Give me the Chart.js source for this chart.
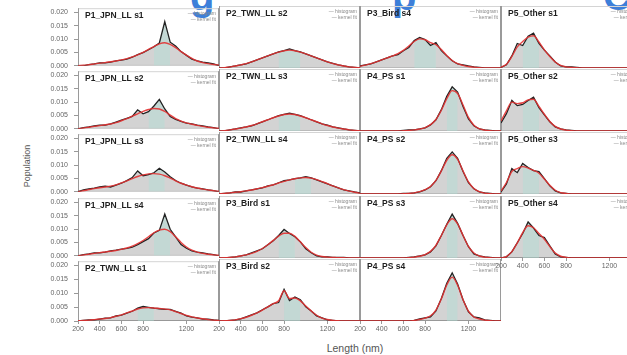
<!DOCTYPE html>
<html>
<head>
<meta charset="utf-8">
<script src="https://cdn.jsdelivr.net/npm/chart.js@4.4.1/dist/chart.umd.min.js"></script>
<style>
  body { margin: 0; background: #fff; }
  #page { position: relative; width: 627px; height: 355px; overflow: hidden; background: #fff;
          font-family: "Liberation Sans", "DejaVu Sans", sans-serif; }
  .panel { position: absolute; }
  .frag { position: absolute; top: -24px; font: bold 40px "Liberation Sans", sans-serif; line-height: 40px; color: #3d7fd9; }
  #xTitle { position: absolute; left: 300px; width: 110px; top: 342px; text-align: center; font-size: 10.5px; color: #555; }
  #yTitle { position: absolute; left: -3px; top: 161px; width: 60px; text-align: center; font-size: 9px; color: #555;
            transform: rotate(-90deg); }
</style>
</head>
<body>
<div id="page">
  <span class="frag" style="left:190px">g</span>
  <span class="frag" style="left:392px">p</span>
  <span class="frag" style="left:603px">C</span>
  <div id="yTitle">Population</div>
  <div id="xTitle">Length (nm)</div>
</div>
<script>
// Shared axes
const lengthBins = [200, 250, 300, 350, 400, 450, 500, 550, 600, 650, 700, 750, 800, 850, 900, 950, 1000, 1050, 1100, 1150, 1200, 1250, 1300, 1350, 1400, 1450, 1500];
const xTickValues = [200, 400, 600, 800, 1200];
const yTickValues = [0, 0.005, 0.010, 0.015, 0.020];

// Panel names (column by column)
const panelNames = [
    'P1_JPN_LL s1', 'P1_JPN_LL s2', 'P1_JPN_LL s3', 'P1_JPN_LL s4', 'P2_TWN_LL s1',
    'P2_TWN_LL s2', 'P2_TWN_LL s3', 'P2_TWN_LL s4', 'P3_Bird s1', 'P3_Bird s2',
    'P3_Bird s4', 'P4_PS s1', 'P4_PS s2', 'P4_PS s3', 'P4_PS s4',
    'P5_Other s1', 'P5_Other s2', 'P5_Other s3', 'P5_Other s4'
];

// Histogram (population per length bin) and fitted curve, per panel
const p1s1Hist = [0, 0, 0.0004, 0.0007, 0.0011, 0.0011, 0.0014, 0.0018, 0.0021, 0.0025, 0.0032, 0.0042, 0.0049, 0.0060, 0.0071, 0.0085, 0.0165, 0.0088, 0.0074, 0.0053, 0.0039, 0.0025, 0.0018, 0.0014, 0.0011, 0.0007, 0];
const p1s1Fit  = [0, 0.0002, 0.0004, 0.0007, 0.0010, 0.0012, 0.0015, 0.0018, 0.0022, 0.0027, 0.0033, 0.0041, 0.0050, 0.0061, 0.0072, 0.0082, 0.0086, 0.0080, 0.0068, 0.0053, 0.0040, 0.0028, 0.0018, 0.0012, 0.0008, 0.0005, 0.0003];
const p1s2Hist = [0, 0.0004, 0.0007, 0.0011, 0.0014, 0.0014, 0.0018, 0.0025, 0.0032, 0.0039, 0.0046, 0.0071, 0.0056, 0.0064, 0.0085, 0.0110, 0.0074, 0.0046, 0.0035, 0.0028, 0.0021, 0.0018, 0.0014, 0.0011, 0.0007, 0.0004, 0];
const p1s2Fit  = [0, 0.0003, 0.0006, 0.0009, 0.0012, 0.0015, 0.0018, 0.0023, 0.0030, 0.0038, 0.0047, 0.0056, 0.0065, 0.0072, 0.0076, 0.0074, 0.0065, 0.0051, 0.0038, 0.0029, 0.0022, 0.0017, 0.0013, 0.0009, 0.0006, 0.0003, 0.0002];
const p1s3Hist = [0, 0.0007, 0.0011, 0.0014, 0.0018, 0.0021, 0.0018, 0.0025, 0.0032, 0.0042, 0.0053, 0.0078, 0.0060, 0.0064, 0.0071, 0.0088, 0.0074, 0.0056, 0.0042, 0.0032, 0.0025, 0.0018, 0.0014, 0.0011, 0.0007, 0.0004, 0];
const p1s3Fit  = [0, 0.0004, 0.0008, 0.0012, 0.0015, 0.0018, 0.0021, 0.0026, 0.0033, 0.0041, 0.0049, 0.0057, 0.0063, 0.0067, 0.0068, 0.0066, 0.0060, 0.0051, 0.0041, 0.0032, 0.0025, 0.0019, 0.0014, 0.0010, 0.0007, 0.0004, 0.0002];
const p1s4Hist = [0, 0.0004, 0.0007, 0.0011, 0.0011, 0.0014, 0.0018, 0.0021, 0.0025, 0.0028, 0.0032, 0.0042, 0.0053, 0.0064, 0.0085, 0.0095, 0.0156, 0.0099, 0.0071, 0.0042, 0.0028, 0.0018, 0.0014, 0.0011, 0.0007, 0.0004, 0];
const p1s4Fit  = [0, 0.0003, 0.0006, 0.0009, 0.0012, 0.0014, 0.0017, 0.0020, 0.0024, 0.0029, 0.0036, 0.0045, 0.0057, 0.0071, 0.0086, 0.0096, 0.0099, 0.0090, 0.0071, 0.0050, 0.0033, 0.0021, 0.0014, 0.0009, 0.0006, 0.0003, 0.0002];
const p2s1Hist = [0, 0.0002, 0.0004, 0.0004, 0.0007, 0.0010, 0.0011, 0.0018, 0.0021, 0.0028, 0.0035, 0.0046, 0.0052, 0.0049, 0.0046, 0.0044, 0.0042, 0.0042, 0.0035, 0.0028, 0.0018, 0.0014, 0.0011, 0.0007, 0.0007, 0.0004, 0.0002];
const p2s1Fit  = [0.0001, 0.0002, 0.0003, 0.0005, 0.0007, 0.0009, 0.0012, 0.0017, 0.0022, 0.0029, 0.0036, 0.0043, 0.0047, 0.0048, 0.0047, 0.0045, 0.0043, 0.0040, 0.0034, 0.0027, 0.0020, 0.0015, 0.0011, 0.0008, 0.0005, 0.0003, 0.0002];
const p2s2Hist = [0, 0, 0.0004, 0.0007, 0.0011, 0.0014, 0.0021, 0.0028, 0.0035, 0.0042, 0.0049, 0.0056, 0.0060, 0.0066, 0.0060, 0.0056, 0.0049, 0.0042, 0.0035, 0.0028, 0.0021, 0.0016, 0.0011, 0.0007, 0.0004, 0.0002, 0];
const p2s2Fit  = [0, 0.0001, 0.0004, 0.0007, 0.0011, 0.0015, 0.0021, 0.0028, 0.0035, 0.0042, 0.0049, 0.0055, 0.0060, 0.0062, 0.0060, 0.0055, 0.0049, 0.0042, 0.0035, 0.0028, 0.0021, 0.0015, 0.0011, 0.0007, 0.0004, 0.0002, 0.0001];
const p2s3Hist = [0, 0, 0.0004, 0.0007, 0.0011, 0.0014, 0.0018, 0.0025, 0.0032, 0.0039, 0.0046, 0.0053, 0.0058, 0.0062, 0.0058, 0.0053, 0.0046, 0.0039, 0.0032, 0.0025, 0.0020, 0.0014, 0.0011, 0.0007, 0.0004, 0.0002, 0];
const p2s3Fit  = [0, 0.0001, 0.0004, 0.0007, 0.0010, 0.0014, 0.0019, 0.0025, 0.0032, 0.0039, 0.0046, 0.0052, 0.0057, 0.0059, 0.0057, 0.0052, 0.0046, 0.0039, 0.0032, 0.0025, 0.0019, 0.0014, 0.0010, 0.0007, 0.0004, 0.0002, 0.0001];
const p2s4Hist = [0, 0.0002, 0.0004, 0.0007, 0.0007, 0.0011, 0.0014, 0.0018, 0.0021, 0.0028, 0.0032, 0.0039, 0.0046, 0.0049, 0.0053, 0.0056, 0.0060, 0.0056, 0.0049, 0.0042, 0.0035, 0.0028, 0.0021, 0.0014, 0.0011, 0.0007, 0.0004];
const p2s4Fit  = [0, 0.0002, 0.0004, 0.0006, 0.0008, 0.0011, 0.0014, 0.0018, 0.0022, 0.0027, 0.0032, 0.0038, 0.0044, 0.0049, 0.0053, 0.0056, 0.0057, 0.0055, 0.0050, 0.0043, 0.0036, 0.0028, 0.0021, 0.0015, 0.0010, 0.0006, 0.0003];
const p3s1Hist = [0, 0, 0.0002, 0.0004, 0.0007, 0.0011, 0.0018, 0.0025, 0.0032, 0.0046, 0.0060, 0.0078, 0.0099, 0.0085, 0.0074, 0.0056, 0.0032, 0.0018, 0.0007, 0.0004, 0.0004, 0.0002, 0.0002, 0.0002, 0, 0, 0];
const p3s1Fit  = [0, 0.0001, 0.0002, 0.0004, 0.0007, 0.0011, 0.0016, 0.0023, 0.0033, 0.0046, 0.0061, 0.0076, 0.0086, 0.0086, 0.0075, 0.0056, 0.0036, 0.0020, 0.0010, 0.0005, 0.0003, 0.0002, 0.0001, 0.0001, 0, 0, 0];
const p3s2Hist = [0, 0, 0.0002, 0.0004, 0.0007, 0.0014, 0.0021, 0.0028, 0.0039, 0.0049, 0.0060, 0.0064, 0.0110, 0.0071, 0.0083, 0.0074, 0.0049, 0.0035, 0.0018, 0.0011, 0.0004, 0.0002, 0, 0, 0, 0, 0];
const p3s2Fit  = [0, 0.0001, 0.0002, 0.0004, 0.0008, 0.0013, 0.0020, 0.0028, 0.0038, 0.0049, 0.0060, 0.0070, 0.0105, 0.0078, 0.0080, 0.0070, 0.0052, 0.0035, 0.0020, 0.0010, 0.0005, 0.0002, 0.0001, 0, 0, 0, 0];
const p3s4Hist = [0.0007, 0.0011, 0.0014, 0.0021, 0.0028, 0.0035, 0.0042, 0.0046, 0.0060, 0.0071, 0.0095, 0.0106, 0.0099, 0.0078, 0.0088, 0.0060, 0.0042, 0.0025, 0.0014, 0.0011, 0.0007, 0.0004, 0.0002, 0, 0, 0, 0];
const p3s4Fit  = [0.0006, 0.0010, 0.0015, 0.0021, 0.0028, 0.0035, 0.0042, 0.0050, 0.0061, 0.0076, 0.0092, 0.0101, 0.0098, 0.0088, 0.0081, 0.0064, 0.0043, 0.0026, 0.0015, 0.0009, 0.0005, 0.0003, 0.0001, 0, 0, 0, 0];
const p4s1Hist = [0, 0, 0, 0, 0, 0, 0, 0, 0.0002, 0.0004, 0.0004, 0.0007, 0.0011, 0.0021, 0.0039, 0.0074, 0.0120, 0.0153, 0.0135, 0.0085, 0.0042, 0.0018, 0.0007, 0.0004, 0.0002, 0, 0];
const p4s1Fit  = [0, 0, 0, 0, 0, 0, 0, 0, 0.0001, 0.0002, 0.0004, 0.0007, 0.0012, 0.0022, 0.0040, 0.0072, 0.0112, 0.0140, 0.0130, 0.0090, 0.0047, 0.0020, 0.0008, 0.0003, 0.0001, 0, 0];
const p4s2Hist = [0, 0, 0, 0, 0, 0, 0, 0, 0.0002, 0.0002, 0.0004, 0.0007, 0.0014, 0.0025, 0.0046, 0.0081, 0.0124, 0.0146, 0.0124, 0.0078, 0.0039, 0.0018, 0.0007, 0.0004, 0.0002, 0, 0];
const p4s2Fit  = [0, 0, 0, 0, 0, 0, 0, 0, 0.0001, 0.0002, 0.0004, 0.0008, 0.0015, 0.0026, 0.0047, 0.0080, 0.0117, 0.0136, 0.0120, 0.0080, 0.0042, 0.0019, 0.0008, 0.0003, 0.0001, 0, 0];
const p4s3Hist = [0, 0, 0, 0, 0, 0, 0, 0, 0, 0.0002, 0.0004, 0.0007, 0.0011, 0.0021, 0.0042, 0.0078, 0.0117, 0.0152, 0.0120, 0.0078, 0.0039, 0.0014, 0.0007, 0.0004, 0.0002, 0, 0];
const p4s3Fit  = [0, 0, 0, 0, 0, 0, 0, 0, 0, 0.0001, 0.0003, 0.0006, 0.0012, 0.0023, 0.0044, 0.0078, 0.0115, 0.0136, 0.0118, 0.0078, 0.0040, 0.0017, 0.0007, 0.0003, 0.0001, 0, 0];
const p4s4Hist = [0, 0, 0, 0, 0, 0, 0, 0, 0, 0, 0.0002, 0.0007, 0.0011, 0.0014, 0.0035, 0.0078, 0.0131, 0.0167, 0.0128, 0.0074, 0.0032, 0.0014, 0.0011, 0.0004, 0.0002, 0, 0];
const p4s4Fit  = [0, 0, 0, 0, 0, 0, 0, 0, 0, 0, 0.0002, 0.0005, 0.0010, 0.0018, 0.0038, 0.0077, 0.0125, 0.0152, 0.0124, 0.0074, 0.0034, 0.0014, 0.0007, 0.0003, 0.0001, 0, 0];
const p5s1Hist = [0.0002, 0.0011, 0.0042, 0.0085, 0.0078, 0.0110, 0.0121, 0.0085, 0.0062, 0.0042, 0.0021, 0.0007, 0.0004, 0.0004, 0.0002, 0, 0, 0, 0, 0, 0, 0, 0, 0, 0, 0, 0];
const p5s1Fit  = [0.0003, 0.0013, 0.0040, 0.0073, 0.0092, 0.0107, 0.0112, 0.0090, 0.0063, 0.0040, 0.0021, 0.0009, 0.0004, 0.0002, 0.0001, 0, 0, 0, 0, 0, 0, 0, 0, 0, 0, 0, 0];
const p5s2Hist = [0.0028, 0.0060, 0.0106, 0.0088, 0.0092, 0.0106, 0.0117, 0.0081, 0.0056, 0.0032, 0.0014, 0.0007, 0.0004, 0.0002, 0, 0, 0, 0, 0, 0, 0, 0, 0, 0, 0, 0, 0];
const p5s2Fit  = [0.0035, 0.0070, 0.0100, 0.0095, 0.0098, 0.0108, 0.0110, 0.0085, 0.0058, 0.0033, 0.0016, 0.0007, 0.0003, 0.0001, 0, 0, 0, 0, 0, 0, 0, 0, 0, 0, 0, 0, 0];
const p5s3Hist = [0.0007, 0.0035, 0.0088, 0.0074, 0.0106, 0.0092, 0.0081, 0.0078, 0.0053, 0.0028, 0.0011, 0.0004, 0.0002, 0, 0, 0, 0, 0, 0, 0, 0, 0, 0, 0, 0, 0, 0];
const p5s3Fit  = [0.0010, 0.0040, 0.0078, 0.0088, 0.0095, 0.0090, 0.0082, 0.0072, 0.0052, 0.0030, 0.0013, 0.0005, 0.0002, 0, 0, 0, 0, 0, 0, 0, 0, 0, 0, 0, 0, 0, 0];
const p5s4Hist = [0, 0.0004, 0.0021, 0.0053, 0.0085, 0.0125, 0.0104, 0.0078, 0.0071, 0.0042, 0.0014, 0.0004, 0.0002, 0, 0, 0, 0, 0, 0, 0, 0, 0, 0, 0, 0, 0, 0];
const p5s4Fit  = [0, 0.0005, 0.0022, 0.0052, 0.0088, 0.0112, 0.0105, 0.0085, 0.0065, 0.0040, 0.0017, 0.0006, 0.0002, 0, 0, 0, 0, 0, 0, 0, 0, 0, 0, 0, 0, 0, 0];

// Shaded central length range of each panel (nm)
const peakBands = [
    [900, 1050], [850, 1000], [850, 1000], [900, 1050], [750, 900],
    [750, 950], [750, 950], [900, 1050], [750, 900], [800, 950],
    [700, 900], [1000, 1100], [1000, 1100], [1000, 1100], [1000, 1100],
    [400, 550], [400, 550], [400, 550], [400, 550]
];

const histSeries = [p1s1Hist, p1s2Hist, p1s3Hist, p1s4Hist, p2s1Hist, p2s2Hist, p2s3Hist, p2s4Hist, p3s1Hist, p3s2Hist,
                    p3s4Hist, p4s1Hist, p4s2Hist, p4s3Hist, p4s4Hist, p5s1Hist, p5s2Hist, p5s3Hist, p5s4Hist];
const fitSeries  = [p1s1Fit, p1s2Fit, p1s3Fit, p1s4Fit, p2s1Fit, p2s2Fit, p2s3Fit, p2s4Fit, p3s1Fit, p3s2Fit,
                    p3s4Fit, p4s1Fit, p4s2Fit, p4s3Fit, p4s4Fit, p5s1Fit, p5s2Fit, p5s3Fit, p5s4Fit];

// Grid layout
const colLeft = [78, 219, 360, 501];
const rowBottom = [68, 131, 194, 258, 321];
const PANEL_W = 141, PANEL_H = 62, PAD = 8, Y_AXIS_W = 44, X_AXIS_H = 16;
const FONT = '"Liberation Sans", "DejaVu Sans", sans-serif';

Chart.defaults.font.family = FONT;
Chart.defaults.animation = false;

// Spines, panel title and small legend text
const panelDecor = {
    id: 'panelDecor',
    beforeDatasetsDraw(chart, args, opts) {
        const ctx = chart.ctx;
        const a = chart.chartArea;
        ctx.save();
        ctx.lineWidth = 1;
        ctx.strokeStyle = '#d4d4d4';
        ctx.beginPath();
        ctx.moveTo(a.left, a.top + 0.5); ctx.lineTo(a.right, a.top + 0.5);
        ctx.stroke();
        ctx.strokeStyle = opts.bottomAxis ? '#999' : '#d4d4d4';
        ctx.beginPath();
        ctx.moveTo(a.left, a.bottom - 0.5); ctx.lineTo(a.right, a.bottom - 0.5);
        ctx.stroke();
        ctx.strokeStyle = '#9a9a9a';
        ctx.beginPath();
        ctx.moveTo(a.left + 0.5, a.top); ctx.lineTo(a.left + 0.5, a.bottom);
        ctx.moveTo(a.right - 0.5, a.top); ctx.lineTo(a.right - 0.5, a.bottom);
        ctx.stroke();
        ctx.restore();
    },
    afterDatasetsDraw(chart, args, opts) {
        const ctx = chart.ctx;
        const a = chart.chartArea;
        ctx.save();
        ctx.fillStyle = '#1e1e1e';
        ctx.font = 'bold 8.5px ' + FONT;
        ctx.textBaseline = 'top';
        ctx.fillText(opts.title, a.left + 7, a.top + 3);
        ctx.fillStyle = '#8a8a8a';
        ctx.font = '5px ' + FONT;
        ctx.textAlign = 'right';
        ctx.fillText('— histogram', a.right - 3, a.top + 3);
        ctx.fillText('— kernel fit', a.right - 3, a.top + 9);
        ctx.restore();
    }
};

function toPoints(values) {
    return lengthBins.map((x, k) => ({x: x, y: values[k]}));
}

function drawPanel(i) {
    const col = i < 15 ? Math.floor(i / 5) : 3;
    const row = i < 15 ? i % 5 : i - 15;
    const showY = col === 0;
    const showX = (col < 3 && row === 4) || (col === 3 && row === 3);

    const left = colLeft[col] - (showY ? Y_AXIS_W : PAD);
    const top = rowBottom[row] - PANEL_H - PAD;
    const width = PANEL_W + (showY ? Y_AXIS_W : PAD) + PAD;
    const height = PANEL_H + PAD + (showX ? X_AXIS_H : PAD);

    const box = document.createElement('div');
    box.className = 'panel';
    box.style.left = left + 'px';
    box.style.top = top + 'px';
    const canvas = document.createElement('canvas');
    canvas.width = width;
    canvas.height = height;
    box.appendChild(canvas);
    document.getElementById('page').appendChild(box);

    const hist = toPoints(histSeries[i]);
    const band = hist.filter(p => p.x >= peakBands[i][0] && p.x <= peakBands[i][1]);

    new Chart(canvas.getContext('2d'), {
        type: 'line',
        data: {
            datasets: [
                {   // fitted curve
                    data: toPoints(fitSeries[i]),
                    borderColor: 'rgba(226, 50, 50, 0.9)',
                    borderWidth: 1.4,
                    pointRadius: 0,
                    tension: 0.35,
                    cubicInterpolationMode: 'monotone',
                    fill: false
                },
                {   // histogram outline
                    data: hist,
                    borderColor: '#222',
                    borderWidth: 1.3,
                    pointRadius: 0,
                    tension: 0,
                    fill: false
                },
                {   // central range
                    data: band,
                    borderWidth: 0,
                    pointRadius: 0,
                    tension: 0,
                    backgroundColor: 'rgba(175, 222, 212, 0.45)',
                    fill: 'origin'
                },
                {   // histogram area
                    data: hist,
                    borderWidth: 0,
                    pointRadius: 0,
                    tension: 0,
                    backgroundColor: 'rgba(150, 150, 150, 0.42)',
                    fill: 'origin'
                }
            ]
        },
        options: {
            responsive: false,
            events: [],
            layout: {
                padding: {
                    top: PAD,
                    right: PAD,
                    left: showY ? 0 : PAD,
                    bottom: showX ? 0 : PAD
                }
            },
            plugins: {
                legend: {display: false},
                tooltip: {enabled: false},
                panelDecor: {title: panelNames[i], bottomAxis: showX}
            },
            scales: {
                x: {
                    type: 'linear',
                    min: 200,
                    max: 1500,
                    display: showX,
                    afterBuildTicks: s => { s.ticks = xTickValues.map(v => ({value: v})); },
                    afterFit: s => { if (showX) s.height = X_AXIS_H; },
                    ticks: {
                        autoSkip: false,
                        maxRotation: 0,
                        padding: 1,
                        color: '#666',
                        font: {size: 7},
                        callback: v => String(v)
                    },
                    grid: {drawOnChartArea: false, drawTicks: true, tickLength: 3, color: '#999'},
                    border: {display: false}
                },
                y: {
                    min: 0,
                    max: 0.0215,
                    display: showY,
                    afterBuildTicks: s => { s.ticks = yTickValues.map(v => ({value: v})); },
                    afterFit: s => { if (showY) s.width = Y_AXIS_W; },
                    ticks: {
                        padding: 6,
                        color: '#666',
                        font: {size: 7},
                        callback: v => v.toFixed(3)
                    },
                    grid: {drawOnChartArea: false, drawTicks: true, tickLength: 4, color: '#999'},
                    border: {display: false}
                }
            }
        },
        plugins: [panelDecor]
    });
}

for (let i = 0; i < panelNames.length; i++) {
    drawPanel(i);
}
</script>
</body>
</html>
